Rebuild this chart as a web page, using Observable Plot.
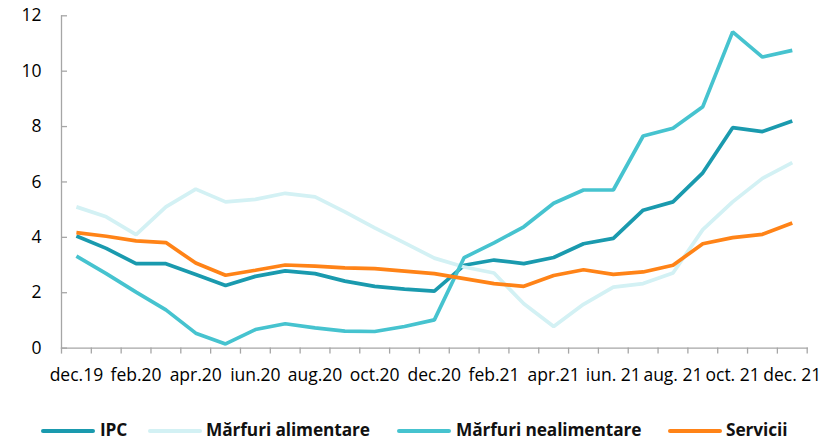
<!DOCTYPE html>
<html>
<head>
<meta charset="utf-8">
<script src="https://cdn.jsdelivr.net/npm/d3@7"></script>
<script src="https://cdn.jsdelivr.net/npm/@observablehq/plot@0.6"></script>
<style>
  html, body { margin: 0; padding: 0; background: #fff; }
  #wrap { position: relative; width: 834px; height: 446px; font-family: "Open Sans", Lato, sans-serif; }
  #legend { position: absolute; left: 0; top: 395px; width: 834px; height: 51px; }
  .li { position: absolute; top: 33.7px; height: 4px; width: 54px; border-radius: 2px; }
  .lt { position: absolute; top: 23.5px; font-weight: bold; font-size: 17.3px; line-height: 22px; color: #111; white-space: nowrap; letter-spacing: -0.1px; }
</style>
</head>
<body>
<div id="wrap">
  <div id="chart"></div>
  <div id="legend"></div>
</div>
<script>
const months = ["dec.19","ian.20","feb.20","mar.20","apr.20","mai.20","iun.20","iul.20","aug.20","sep.20","oct.20","nov.20","dec.20",
  "ian.21","feb.21","mar.21","apr.21","mai.21","iun. 21","iul. 21","aug. 21","sep. 21","oct. 21","nov. 21","dec. 21"];
const seriesNames = ["IPC", "Mărfuri alimentare", "Mărfuri nealimentare", "Servicii"];
const seriesColors = ["#1a9aae", "#d3f1f4", "#46c3cf", "#ff8317"];
const ipc = [4.05, 3.6, 3.05, 3.05, 2.66, 2.26, 2.59, 2.79, 2.69, 2.42, 2.23, 2.13, 2.06, 2.99, 3.18, 3.05, 3.27, 3.77, 3.96, 4.98, 5.28, 6.33, 7.96, 7.82, 8.2];
const alimentare = [5.1, 4.74, 4.1, 5.1, 5.74, 5.28, 5.37, 5.59, 5.46, 4.92, 4.34, 3.8, 3.25, 2.93, 2.71, 1.6, 0.78, 1.58, 2.2, 2.33, 2.71, 4.28, 5.28, 6.13, 6.7];
const nealimentare = [3.32, 2.69, 2.02, 1.38, 0.54, 0.15, 0.67, 0.88, 0.73, 0.61, 0.6, 0.78, 1.02, 3.27, 3.8, 4.38, 5.23, 5.71, 5.71, 7.66, 7.94, 8.72, 11.42, 10.51, 10.75];
const servicii = [4.17, 4.04, 3.87, 3.81, 3.07, 2.63, 2.81, 3.0, 2.96, 2.9, 2.87, 2.78, 2.69, 2.51, 2.33, 2.23, 2.62, 2.83, 2.66, 2.75, 2.99, 3.77, 3.99, 4.11, 4.52];
const yTicks = [0, 2, 4, 6, 8, 10, 12];

const values = [ipc, alimentare, nealimentare, servicii];
const data = [];
seriesNames.forEach((s, k) => values[k].forEach((v, i) => data.push({series: s, i, month: months[i], value: v})));

const boundaries = d3.range(-0.5, months.length, 1);
const labelIdx = d3.range(0, months.length, 2);

const chart = Plot.plot({
  width: 834,
  height: 395,
  marginLeft: 61,
  marginRight: 27.3,
  marginTop: 15.3,
  marginBottom: 47.4,
  style: {fontFamily: "'Open Sans', Lato, sans-serif", fontSize: "17px", color: "#000", background: "#fff"},
  x: {type: "linear", domain: [-0.5, months.length - 0.5]},
  y: {domain: [0, 12]},
  color: {domain: seriesNames, range: seriesColors},
  marks: [
    Plot.frame({anchor: "left", stroke: "#a6a6a6", strokeWidth: 1.3}),
    Plot.frame({anchor: "bottom", stroke: "#a6a6a6", strokeWidth: 1.3}),
    Plot.axisY({ticks: yTicks, tickSize: 0, tickPadding: 20, tickFormat: d => d, label: null, fill: "#000", fontSize: 17.5}),
    Plot.axisY({ticks: yTicks, tickSize: -6, tickFormat: () => "", label: null, stroke: "#a6a6a6", strokeWidth: 1.3}),
    Plot.axisX({ticks: boundaries, tickSize: 6, tickFormat: () => "", label: null, stroke: "#a6a6a6", strokeWidth: 1.3}),
    Plot.axisX({ticks: labelIdx, tickSize: 0, tickPadding: 20, tickFormat: i => months[i], label: null, fill: "#000", fontSize: 17.5, style: {letterSpacing: "-0.3px"}}),
    Plot.line(data, {x: "i", y: "value", z: "series", stroke: "series", strokeWidth: 3.7, strokeLinejoin: "miter", strokeLinecap: "butt"})
  ]
});
document.getElementById("chart").appendChild(chart);

const legend = document.getElementById("legend");
const lineLeft = [41, 148, 397, 668];
const textLeft = [100, 206, 456, 726];
seriesNames.forEach((s, k) => {
  const l = document.createElement("div");
  l.className = "li";
  l.style.left = lineLeft[k] + "px";
  l.style.background = seriesColors[k];
  legend.appendChild(l);
  const t = document.createElement("div");
  t.className = "lt";
  t.style.left = textLeft[k] + "px";
  t.textContent = s;
  legend.appendChild(t);
});
</script>
</body>
</html>
